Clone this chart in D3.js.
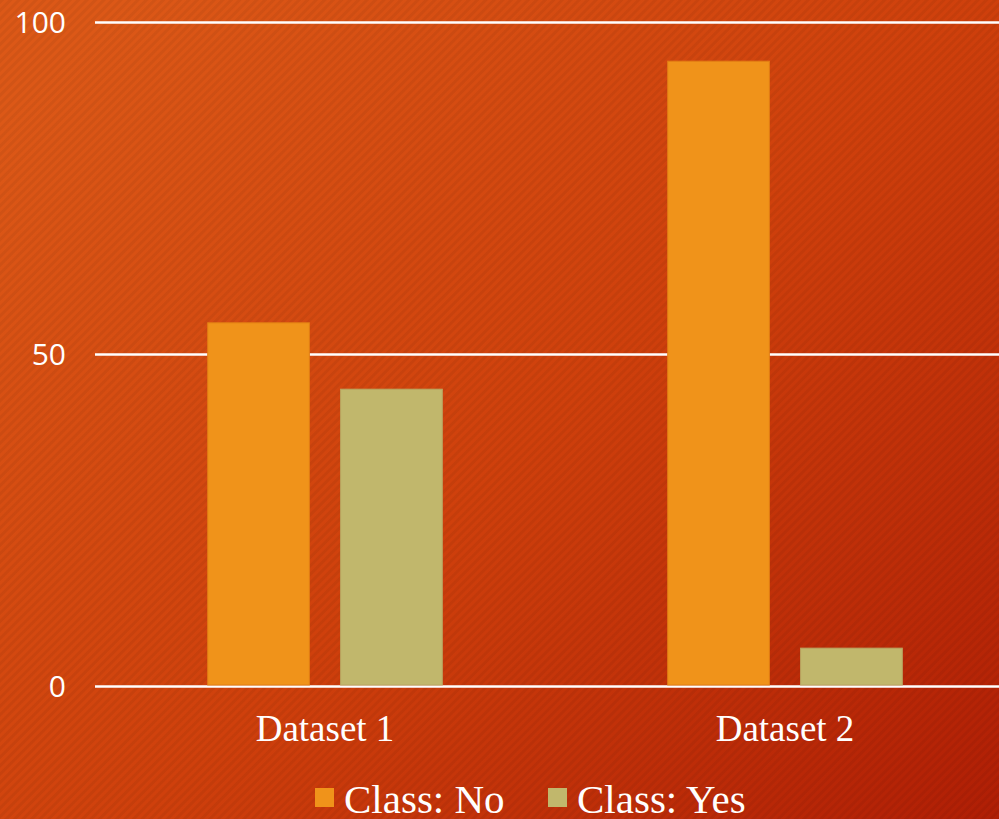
<!DOCTYPE html>
<html>
<head>
<meta charset="utf-8">
<script src="https://cdn.jsdelivr.net/npm/d3@7"></script>
<style>
  html, body { margin: 0; padding: 0; overflow: hidden; }
  svg { display: block; }
</style>
</head>
<body>
<div id="chart"></div>
<script>
(function() {

    // data
    var categories = ["Dataset 1", "Dataset 2"];
    var seriesNames = ["Class: No", "Class: Yes"];
    var classNo = [54.7, 94.1];
    var classYes = [44.7, 5.7];
    var yTicks = [0, 50, 100];

    var W = 999, H = 819;
    var margin = {top: 22, left: 95, right: -16, bottom: 133},
        width = W - margin.left - margin.right,
        height = H - margin.top - margin.bottom;

    var colors = ["#f0931a", "#c1b76c"];
    var strokes = ["#e27e14", "#b8a763"];

    var rows = categories.map(function(c, i) {
        return {name: c, values: [classNo[i], classYes[i]]};
    });

    var svg = d3.select("#chart").append("svg")
        .attr("width", W)
        .attr("height", H);

    // background: gradient + fine diagonal texture
    var defs = svg.append("defs");
    var grad = defs.append("linearGradient")
        .attr("id", "bg")
        .attr("x1", "0%").attr("y1", "15%")
        .attr("x2", "100%").attr("y2", "100%");
    grad.append("stop").attr("offset", "0%").attr("stop-color", "#dc5817");
    grad.append("stop").attr("offset", "50%").attr("stop-color", "#cf400c");
    grad.append("stop").attr("offset", "100%").attr("stop-color", "#b01e05");

    var pat = defs.append("pattern")
        .attr("id", "stripes")
        .attr("width", 6)
        .attr("height", 6)
        .attr("patternUnits", "userSpaceOnUse")
        .attr("patternTransform", "rotate(45)");
    pat.append("rect")
        .attr("width", 3).attr("height", 6)
        .attr("fill", "#000").attr("opacity", 0.05);

    svg.append("rect").attr("width", W).attr("height", H).attr("fill", "url(#bg)");
    svg.append("rect").attr("width", W).attr("height", H).attr("fill", "url(#stripes)");

    var g = svg.append("g")
        .attr("transform", "translate(" + margin.left + "," + margin.top + ")");

    var x0 = d3.scaleBand()
        .domain(categories)
        .range([0, width])
        .paddingInner(0.49)
        .paddingOuter(0.245);

    var x1 = d3.scaleBand()
        .domain(seriesNames)
        .range([0, x0.bandwidth()])
        .paddingInner(0.235);

    var y = d3.scaleLinear()
        .domain([0, 100])
        .range([height, 0]);

    // y axis with gridlines
    var yAxis = g.append("g")
        .call(d3.axisLeft(y).tickValues(yTicks).tickSize(-width).tickPadding(29));
    yAxis.select(".domain").remove();
    yAxis.selectAll(".tick line")
        .attr("stroke", "#fff")
        .attr("stroke-width", 2.5);
    yAxis.selectAll(".tick text")
        .attr("fill", "#fff")
        .attr("font-family", "'Open Sans', sans-serif")
        .attr("font-size", 30)
        .attr("dy", "0.36em");

    // bars
    g.append("g")
      .selectAll("g")
      .data(rows)
      .enter().append("g")
        .attr("transform", function(d) { return "translate(" + x0(d.name) + ",0)"; })
      .selectAll("rect")
      .data(function(d) { return d.values.map(function(v, i) { return {key: seriesNames[i], i: i, value: v}; }); })
      .enter().append("rect")
        .attr("x", function(d) { return x1(d.key); })
        .attr("y", function(d) { return y(d.value); })
        .attr("width", x1.bandwidth())
        .attr("height", function(d) { return y(0) - y(d.value) - 1; })
        .attr("fill", function(d) { return colors[d.i]; })
        .attr("stroke", function(d) { return strokes[d.i]; })
        .attr("stroke-width", 1);

    // x axis labels
    var xAxis = g.append("g")
        .attr("transform", "translate(0," + height + ")")
        .call(d3.axisBottom(x0).tickSize(0).tickPadding(29));
    xAxis.select(".domain").remove();
    xAxis.selectAll(".tick text")
        .attr("fill", "#fff")
        .attr("font-family", "'Liberation Serif', serif")
        .attr("font-size", 37);

    // legend
    var legendX = [315, 548];
    var legend = svg.append("g")
      .selectAll("g")
      .data(seriesNames)
      .enter().append("g")
        .attr("transform", function(d, i) { return "translate(" + legendX[i] + ",788)"; });

    legend.append("rect")
        .attr("width", 19)
        .attr("height", 19)
        .attr("fill", function(d, i) { return colors[i]; });

    legend.append("text")
        .attr("x", 29)
        .attr("y", 25)
        .attr("fill", "#fff")
        .attr("font-family", "'Liberation Serif', serif")
        .attr("font-size", 41)
        .text(function(d) { return d; });

})();
</script>
</body>
</html>
